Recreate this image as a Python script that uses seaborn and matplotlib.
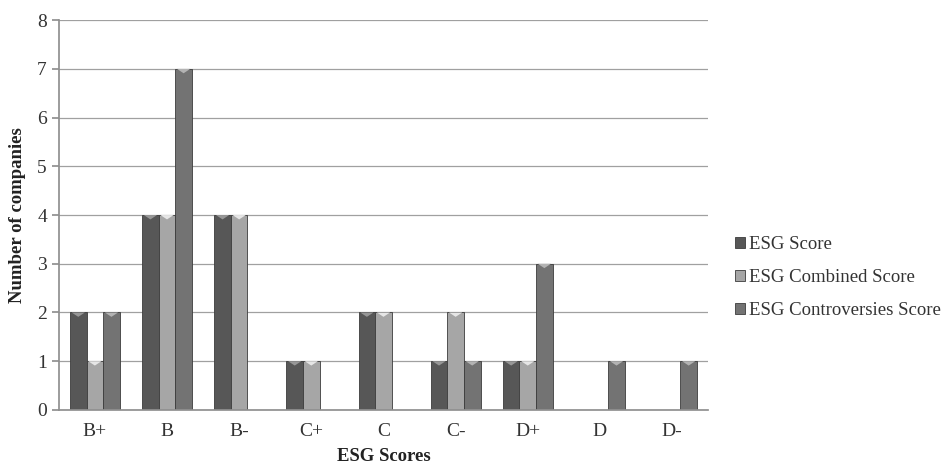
import pandas as pd
import matplotlib
matplotlib.use("Agg")
import matplotlib.pyplot as plt
import matplotlib.colors as mcolors
from matplotlib.patches import Polygon
import seaborn as sns

# dados
grades = ["B+", "B", "B-", "C+", "C", "C-", "D+", "D", "D-"]
esg_score = [2, 4, 4, 1, 2, 1, 1, 0, 0]
esg_combined = [1, 4, 4, 1, 2, 2, 1, 0, 0]
esg_controversies = [2, 7, 0, 0, 0, 1, 3, 1, 1]
series_names = ["ESG Score", "ESG Combined Score", "ESG Controversies Score"]

sns.set_theme(style="white")
plt.rcParams["font.family"] = ["Liberation Serif", "DejaVu Serif"]

df = pd.DataFrame({
    "grade": grades * 3,
    "count": esg_score + esg_combined + esg_controversies,
    "series": [n for n in series_names for _ in grades],
})

palette = {"ESG Score": "#575757", "ESG Combined Score": "#a6a6a6",
           "ESG Controversies Score": "#737373"}

fig = plt.figure(figsize=(9.48, 4.69), dpi=100)
ax = fig.add_axes([0.062, 0.126, 0.685, 0.831])
sns.barplot(data=df, x="grade", y="count", hue="series", palette=palette,
            order=grades, hue_order=series_names, width=0.69,
            edgecolor="#3c3c3c", linewidth=0.6, saturation=1, ax=ax)

# pequeno triângulo claro no topo de cada barra (efeito 3D do original)
for p in ax.patches:
    h = p.get_height()
    if h <= 0:
        continue
    x0, w = p.get_x(), p.get_width()
    fc = mcolors.to_rgb(p.get_facecolor())
    light = tuple(min(1, c + 0.25) for c in fc)
    tri = Polygon([(x0 + 0.1 * w, h), (x0 + 0.9 * w, h), (x0 + 0.5 * w, h - 0.09)],
                  closed=True, facecolor=light, edgecolor="none", zorder=3)
    ax.add_patch(tri)

ax.set_ylim(0, 8)
ax.set_yticks(range(0, 9))
ax.yaxis.grid(True, color="#a0a0a0", linewidth=0.9)
ax.set_axisbelow(True)
for s in ["top", "right"]:
    ax.spines[s].set_visible(False)
ax.spines["left"].set_color("#909090")
ax.spines["bottom"].set_color("#909090")
ax.tick_params(axis="y", left=True, length=5, color="#909090", labelsize=14,
               labelcolor="#333333")
ax.tick_params(axis="x", bottom=False, labelsize=14, labelcolor="#333333")
ax.set_xlabel("ESG Scores", fontsize=13.5, fontweight="bold", color="#222222",
              labelpad=6)
ax.set_ylabel("Number of companies", fontsize=13.5, fontweight="bold",
              color="#222222", labelpad=8)

ax.legend(loc="center left", bbox_to_anchor=(1.015, 0.34), frameon=False,
          fontsize=13.5, handlelength=0.55, handleheight=0.55, handletextpad=0.2,
          labelspacing=0.85, labelcolor="#333333")

fig.savefig("out.png", dpi=100, facecolor="white")
